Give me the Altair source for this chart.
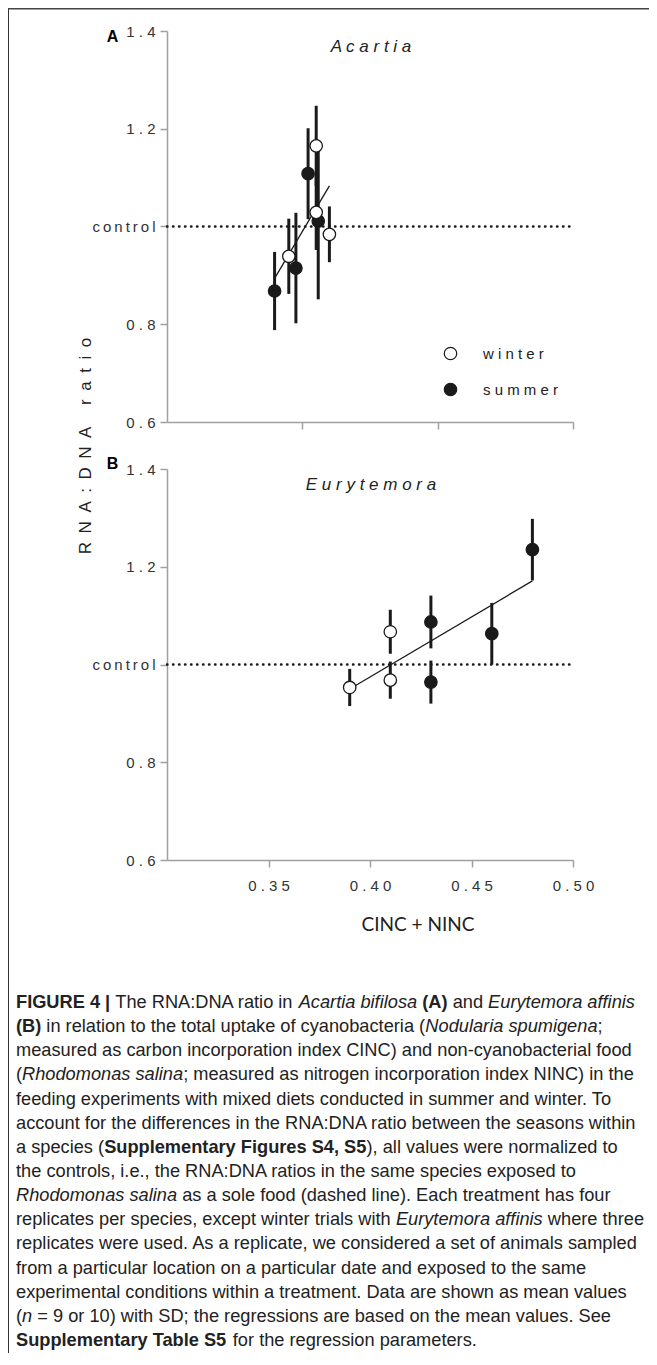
import altair as alt
import pandas as pd

# ---------------- data ----------------
ACARTIA_SEASON = ["summer", "winter", "summer", "summer", "winter", "winter", "summer", "winter"]
ACARTIA_X = [0.353, 0.360, 0.3635, 0.3695, 0.3735, 0.3735, 0.3745, 0.380]
ACARTIA_MEAN = [0.868, 0.939, 0.915, 1.108, 1.165, 1.029, 1.011, 0.984]
ACARTIA_SD = [0.080, 0.077, 0.113, 0.093, 0.082, 0.077, 0.160, 0.057]
ACARTIA_FIT_X = [0.353, 0.380]
ACARTIA_FIT_Y = [0.894, 1.083]

EURY_SEASON = ["winter", "winter", "winter", "summer", "summer", "summer", "summer"]
EURY_X = [0.39, 0.41, 0.41, 0.43, 0.43, 0.46, 0.48]
EURY_MEAN = [0.953, 1.067, 0.968, 1.087, 0.964, 1.063, 1.235]
EURY_SD = [0.038, 0.045, 0.038, 0.054, 0.044, 0.063, 0.063]
EURY_FIT_X = [0.39, 0.48]
EURY_FIT_Y = [0.950, 1.171]

SEASONS = ["winter", "summer"]
CONTROL = [1.0]
X_DOMAIN = [0.30, 0.50]
Y_DOMAIN = [0.6, 1.4]
Y_TICKS = [0.6, 0.8, 1.0, 1.2, 1.4]
Y_TICK_LABELS = ["0.6", "0.8", "control", "1.2", "1.4"]
X_TICKS_A = [0.3667, 0.4333, 0.50]
X_TICKS_B = [0.35, 0.40, 0.45, 0.50]
X_TICK_LABELS_B = ["0.35", "0.40", "0.45", "0.50"]
SPECIES = ["Acartia", "Eurytemora"]
PANEL_LETTERS = ["A", "B"]
Y_TITLE = "RNA:DNA ratio"
X_TITLE = "CINC + NINC"

CAPTION = [
    [("FIGURE 4 |", "b"), (" The RNA:DNA ratio in ", "r"), ("Acartia bifilosa", "i"), (" ", "r"),
     ("(A)", "b"), (" and ", "r"), ("Eurytemora affinis", "i")],
    [("(B)", "b"), (" in relation to the total uptake of cyanobacteria (", "r"),
     ("Nodularia spumigena", "i"), (";", "r")],
    [("measured as carbon incorporation index CINC) and non-cyanobacterial food", "r")],
    [("(", "r"), ("Rhodomonas salina", "i"),
     ("; measured as nitrogen incorporation index NINC) in the", "r")],
    [("feeding experiments with mixed diets conducted in summer and winter. To", "r")],
    [("account for the differences in the RNA:DNA ratio between the seasons within", "r")],
    [("a species (", "r"), ("Supplementary Figures S4, S5", "b"), ("), all values were normalized to", "r")],
    [("the controls, i.e., the RNA:DNA ratios in the same species exposed to", "r")],
    [("Rhodomonas salina", "i"), (" as a sole food (dashed line). Each treatment has four", "r")],
    [("replicates per species, except winter trials with ", "r"), ("Eurytemora affinis", "i"),
     (" where three", "r")],
    [("replicates were used. As a replicate, we considered a set of animals sampled", "r")],
    [("from a particular location on a particular date and exposed to the same", "r")],
    [("experimental conditions within a treatment. Data are shown as mean values", "r")],
    [("(", "r"), ("n", "i"), (" = 9 or 10) with SD; the regressions are based on the mean values. See", "r")],
    [("Supplementary Table S5", "b"), (" for the regression parameters.", "r")],
]

# ---------------- style / layout (chart coords = page coords - 8) ----------------
FONT = "Liberation Sans"
INK = "#1a1a1a"
TXT = "#222222"
AXC = "#a0a0a0"
M = 8
W, H = 641, 1345
PX0, PX1 = 167 - M, 573 - M
A_TOP = 31 - M
PH = 391
GAP = 47
A_BOT = A_TOP + PH
B_TOP = A_BOT + GAP
B_BOT = B_TOP + PH

# Arial / Liberation Sans advance widths (1/1000 em) for caption layout
_low = " abcdefghijklmnopqrstuvwxyz"
_cap = "ABCDEFGHIJKLMNOPQRSTUVWXYZ"
W_REG = dict(zip(_low, [278, 556, 556, 500, 556, 556, 278, 556, 556, 222, 222, 500, 222, 833, 556, 556,
                        556, 556, 333, 500, 278, 556, 500, 722, 500, 500, 500]))
W_REG.update(zip(_cap, [667, 667, 722, 722, 667, 611, 778, 722, 278, 500, 667, 556, 833, 722, 778, 667,
                        778, 722, 667, 611, 722, 667, 944, 667, 667, 611]))
W_REG.update({c: 556 for c in "0123456789"})
W_REG.update({".": 278, ",": 278, ":": 278, ";": 278, "(": 333, ")": 333, "|": 260, "=": 584,
              "+": 584, "-": 333})
W_BOLD = dict(zip(_low, [278, 556, 611, 556, 611, 556, 333, 611, 611, 278, 278, 556, 278, 889, 611, 611,
                         611, 611, 389, 556, 333, 611, 556, 778, 556, 556, 500]))
W_BOLD.update(zip(_cap, [722, 722, 722, 722, 667, 611, 778, 722, 278, 556, 722, 611, 833, 722, 778, 667,
                         778, 722, 667, 611, 722, 667, 944, 667, 667, 611]))
W_BOLD.update({c: 556 for c in "0123456789"})
W_BOLD.update({".": 278, ",": 278, ":": 333, ";": 333, "(": 333, ")": 333, "|": 280, "=": 584,
               "+": 584, "-": 333})


def units(s, style):
    t = W_BOLD if style == "b" else W_REG
    return sum(t.get(c, 556) for c in s)


CAP_LEFT, CAP_FIRST, CAP_STEP, CAP_W1 = 16 - M, 1003 - M, 24.14, 619
CAP_FS = CAP_W1 * 1000 / sum(units(t, s) for t, s in CAPTION[0])

rows = []
for i, line in enumerate(CAPTION):
    cur = CAP_LEFT
    for txt, st in line:
        lead = len(txt) - len(txt.lstrip(" "))
        seg = txt.lstrip(" ")
        if seg:
            rows.append({"seg": seg, "style": st,
                         "px": cur + units(" " * lead, st) * CAP_FS / 1000,
                         "py": CAP_FIRST + i * CAP_STEP})
        cur += units(txt, st) * CAP_FS / 1000
cap_df = pd.DataFrame(rows)


def spaced(s, sep=" "):
    return sep.join(list(s))


def tick_label(l):
    return spaced(l, "\u2009") if l.isalpha() else spaced(l)


def value_label_expr(values, labels):
    expr = "''"
    for v, l in reversed(list(zip(values, labels))):
        expr = f"abs(datum.value - {v}) < 1e-6 ? '{tick_label(l)}' : {expr}"
    return expr


def text_at(text, x, y, **kw):
    return alt.Chart(pd.DataFrame({"t": [text]})).mark_text(**kw).encode(
        text="t:N", x=alt.value(x), y=alt.value(y))


LEGEND = alt.Legend(
    orient="none", legendX=435, legendY=338, title=None, symbolType="circle", symbolSize=154,
    symbolStrokeColor=INK, symbolStrokeWidth=1.2, labelFont=FONT, labelFontSize=15,
    labelColor=TXT, labelOffset=25, rowPadding=17, padding=0,
    labelExpr=" : ".join(f"datum.label == '{s}' ? '{spaced(s)}'" for s in SEASONS) + " : datum.label")


def panel(season, xs, means, sds, fit_x, fit_y, xticks, xlabels, letter, species, top, bot):
    df = pd.DataFrame({"season": season, "x": xs, "mean": means, "sd": sds})
    df["lo"] = df["mean"] - df["sd"]
    df["hi"] = df["mean"] + df["sd"]
    df = df.sort_values("season", kind="stable")
    fit = pd.DataFrame({"x": fit_x, "y": fit_y})
    ctl = pd.DataFrame({"c": CONTROL, "x0": [X_DOMAIN[0]], "x1": [X_DOMAIN[1]]})

    xsc = alt.Scale(domain=X_DOMAIN, range=[PX0, PX1], nice=False, zero=False)
    ysc = alt.Scale(domain=Y_DOMAIN, range=[bot, top], nice=False, zero=False)
    xkw = dict(values=xticks, title=None, grid=False, orient="bottom", offset=bot - H,
               domainColor=AXC, tickColor=AXC, domainWidth=1.5, tickWidth=1.5, tickSize=7,
               labelFont=FONT, labelFontSize=15, labelColor="#333", labelPadding=11,
               labelFlush=False, labelOverlap=False)
    if xlabels:
        xkw["labelExpr"] = value_label_expr(xticks, xlabels)
    else:
        xkw["labels"] = False
    xax = alt.Axis(**xkw)
    yax = alt.Axis(values=Y_TICKS, title=None, grid=False, orient="left", offset=-PX0,
                   domainColor=AXC, tickColor=AXC, domainWidth=1.5, tickWidth=1.5, tickSize=7,
                   labelFont=FONT, labelFontSize=15, labelColor="#333", labelPadding=5,
                   labelFlush=False, labelOverlap=False,
                   labelExpr=value_label_expr(Y_TICKS, Y_TICK_LABELS))

    def X(f, ax=None):
        return alt.X(f, scale=xsc, axis=ax)

    def Y(f, ax=None):
        return alt.Y(f, scale=ysc, axis=ax)

    dotted = alt.Chart(ctl).mark_rule(
        color=INK, strokeWidth=2.4, strokeDash=[0.5, 5.5], strokeCap="round").encode(
        x=X("x0:Q"), x2="x1:Q", y=Y("c:Q"))
    bars = alt.Chart(df).mark_rule(color=INK, strokeWidth=3).encode(
        x=X("x:Q"), y=Y("lo:Q"), y2="hi:Q")
    line = alt.Chart(fit).mark_line(color=INK, strokeWidth=1.3).encode(x=X("x:Q"), y=Y("y:Q"))
    pts = alt.Chart(df).mark_circle(size=154, opacity=1, stroke=INK, strokeWidth=1.3).encode(
        x=X("x:Q", xax), y=Y("mean:Q", yax),
        fill=alt.Fill("season:N", scale=alt.Scale(domain=SEASONS, range=["white", INK]),
                      legend=LEGEND))
    lab = text_at(letter, 112.5 - M, top + 6 if letter == "A" else top - 5,
                  font=FONT, fontSize=16, fontWeight="bold", color="#000", align="center",
                  baseline="middle")
    sp = text_at(spaced(species), 371 - M, top + 16, font=FONT, fontSize=17,
                 fontStyle="italic", color=TXT, align="center", baseline="middle")
    return [dotted, bars, line, pts, lab, sp]


layers_a = panel(ACARTIA_SEASON, ACARTIA_X, ACARTIA_MEAN, ACARTIA_SD, ACARTIA_FIT_X, ACARTIA_FIT_Y,
                 X_TICKS_A, None, PANEL_LETTERS[0], SPECIES[0], A_TOP, A_BOT)
layers_b = panel(EURY_SEASON, EURY_X, EURY_MEAN, EURY_SD, EURY_FIT_X, EURY_FIT_Y,
                 X_TICKS_B, X_TICK_LABELS_B, PANEL_LETTERS[1], SPECIES[1], B_TOP, B_BOT)

# frame + shared titles
blank = pd.DataFrame({"k": [0]})
frame_left = alt.Chart(blank).mark_rule(color="#333", strokeWidth=1).encode(
    x=alt.value(0.5), y=alt.value(0.75), y2=alt.value(H))
frame_top = alt.Chart(blank).mark_rule(color="#444", strokeWidth=1.5).encode(
    x=alt.value(0), x2=alt.value(W), y=alt.value(0.75))
ytitle = text_at(spaced(Y_TITLE, "\u2002"), 86 - M, 446 - M, font=FONT, fontSize=17, angle=270,
                 color=TXT, align="center", baseline="middle")
xtitle = text_at(X_TITLE, 418 - M, 925 - M, font="Lato", fontSize=19, color=TXT,
                 align="center", baseline="middle")

cap_layers = []
for st, kw in [("r", {}), ("i", {"fontStyle": "italic"}), ("b", {"fontWeight": "bold"})]:
    cap_layers.append(
        alt.Chart(cap_df).transform_filter(alt.datum.style == st).mark_text(
            align="left", baseline="middle", font=FONT, fontSize=CAP_FS, color=TXT, **kw).encode(
            x=alt.X("px:Q", scale=None, axis=None), y=alt.Y("py:Q", scale=None, axis=None),
            text="seg:N"))

chart = alt.layer(
    frame_left, frame_top, *layers_a, *layers_b, ytitle, xtitle, *cap_layers
).resolve_scale(x="independent", y="independent").properties(
    width=W, height=H, padding=0, autosize=alt.AutoSizeParams(type="none")
).configure_view(stroke=None)

chart.save("out.html", embed_options={"renderer": "svg", "actions": False})
